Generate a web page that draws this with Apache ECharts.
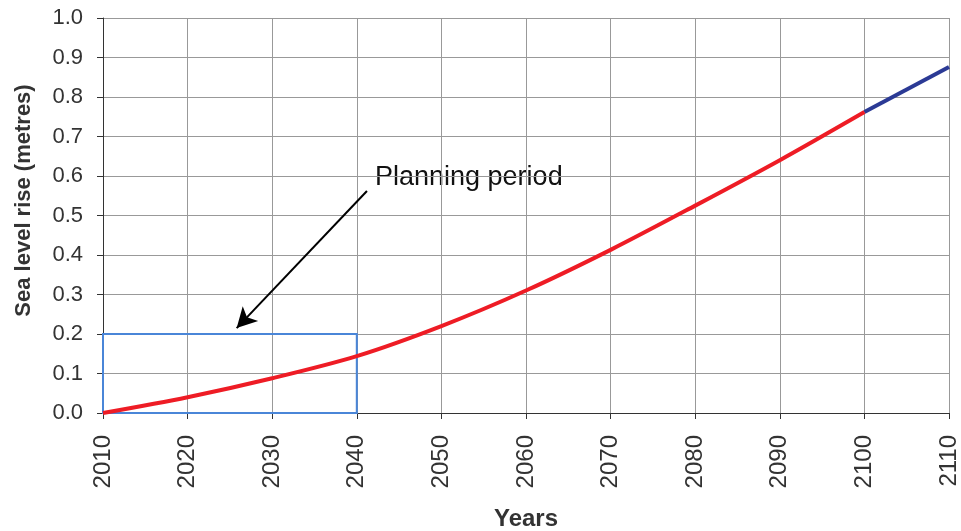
<!DOCTYPE html>
<html><head><meta charset="utf-8">
<script src="https://cdn.jsdelivr.net/npm/echarts@6/dist/echarts.min.js"></script>
<style>html,body{margin:0;padding:0;background:#fff}#c{width:961px;height:531px}</style>
</head><body><div id="c"></div>
<script>
const years = [2010, 2020, 2030, 2040, 2050, 2060, 2070, 2080, 2090, 2100];
const seaLevel = [0.0, 0.04, 0.088, 0.144, 0.22, 0.31, 0.413, 0.525, 0.64, 0.762];
const extYears = [2100, 2110];
const extLevel = [0.762, 0.876];
const planBox = [[2010, 0.0], [2040, 0.2]];
const arrowFrom = [2041.2, 0.562];
const arrowTo = [2025.8, 0.215];
const annotation = 'Planning period';

const chart = echarts.init(document.getElementById('c'));
const font = 'Liberation Sans, Arial, sans-serif';
chart.setOption({
  animation: false,
  grid: {left: 103, right: 12, top: 18, bottom: 118, outerBoundsMode: 'none', containLabel: false},
  xAxis: {
    type: 'value', min: 2010, max: 2110, interval: 10,
    name: 'Years', nameLocation: 'middle', nameGap: 94,
    nameTextStyle: {fontFamily: font, fontSize: 24, fontWeight: 'bold', color: '#333'},
    axisLine: {show: true, lineStyle: {color: '#333', width: 1}},
    axisTick: {show: true, length: 6, lineStyle: {color: '#333'}},
    axisLabel: {rotate: 90, fontFamily: font, fontSize: 24, color: '#333', margin: 22,
      formatter: v => String(v)},
    splitLine: {show: true, lineStyle: {color: '#999', width: 1}}
  },
  yAxis: {
    type: 'value', min: 0, max: 1, interval: 0.1,
    name: 'Sea level rise (metres)', nameLocation: 'middle', nameGap: 68,
    nameTextStyle: {fontFamily: font, fontSize: 22, fontWeight: 'bold', color: '#333',
      padding: [0, 0, 0, 30]},
    axisLine: {show: true, lineStyle: {color: '#333', width: 1}},
    axisTick: {show: true, length: 6, lineStyle: {color: '#333'}},
    axisLabel: {fontFamily: font, fontSize: 22, color: '#333', margin: 20,
      formatter: v => v.toFixed(1)},
    splitLine: {show: true, lineStyle: {color: '#999', width: 1}}
  },
  series: [
    {
      type: 'line', data: extYears.map((x, i) => [x, extLevel[i]]),
      showSymbol: false, lineStyle: {color: '#2b3a95', width: 4}, z: 3
    },
    {
      type: 'line', data: years.map((x, i) => [x, seaLevel[i]]),
      showSymbol: false, smooth: 0.3,
      lineStyle: {color: '#ee1c25', width: 4}, z: 4,
      markArea: {
        silent: true,
        itemStyle: {color: 'rgba(0,0,0,0)', borderColor: '#4a86d8', borderWidth: 2},
        data: [[{coord: planBox[0]}, {coord: planBox[1]}]]
      },
      markLine: {
        silent: true, symbol: ['none', 'arrow'], symbolSize: [16, 20],
        lineStyle: {color: '#000', width: 2, type: 'solid'},
        label: {show: false},
        data: [[{coord: arrowFrom}, {coord: arrowTo}]]
      }
    }
  ],
  graphic: [{
    type: 'text', left: 375, top: 164,
    style: {text: annotation, font: '27px ' + font, fill: '#111'}
  }]
});
</script></body></html>
